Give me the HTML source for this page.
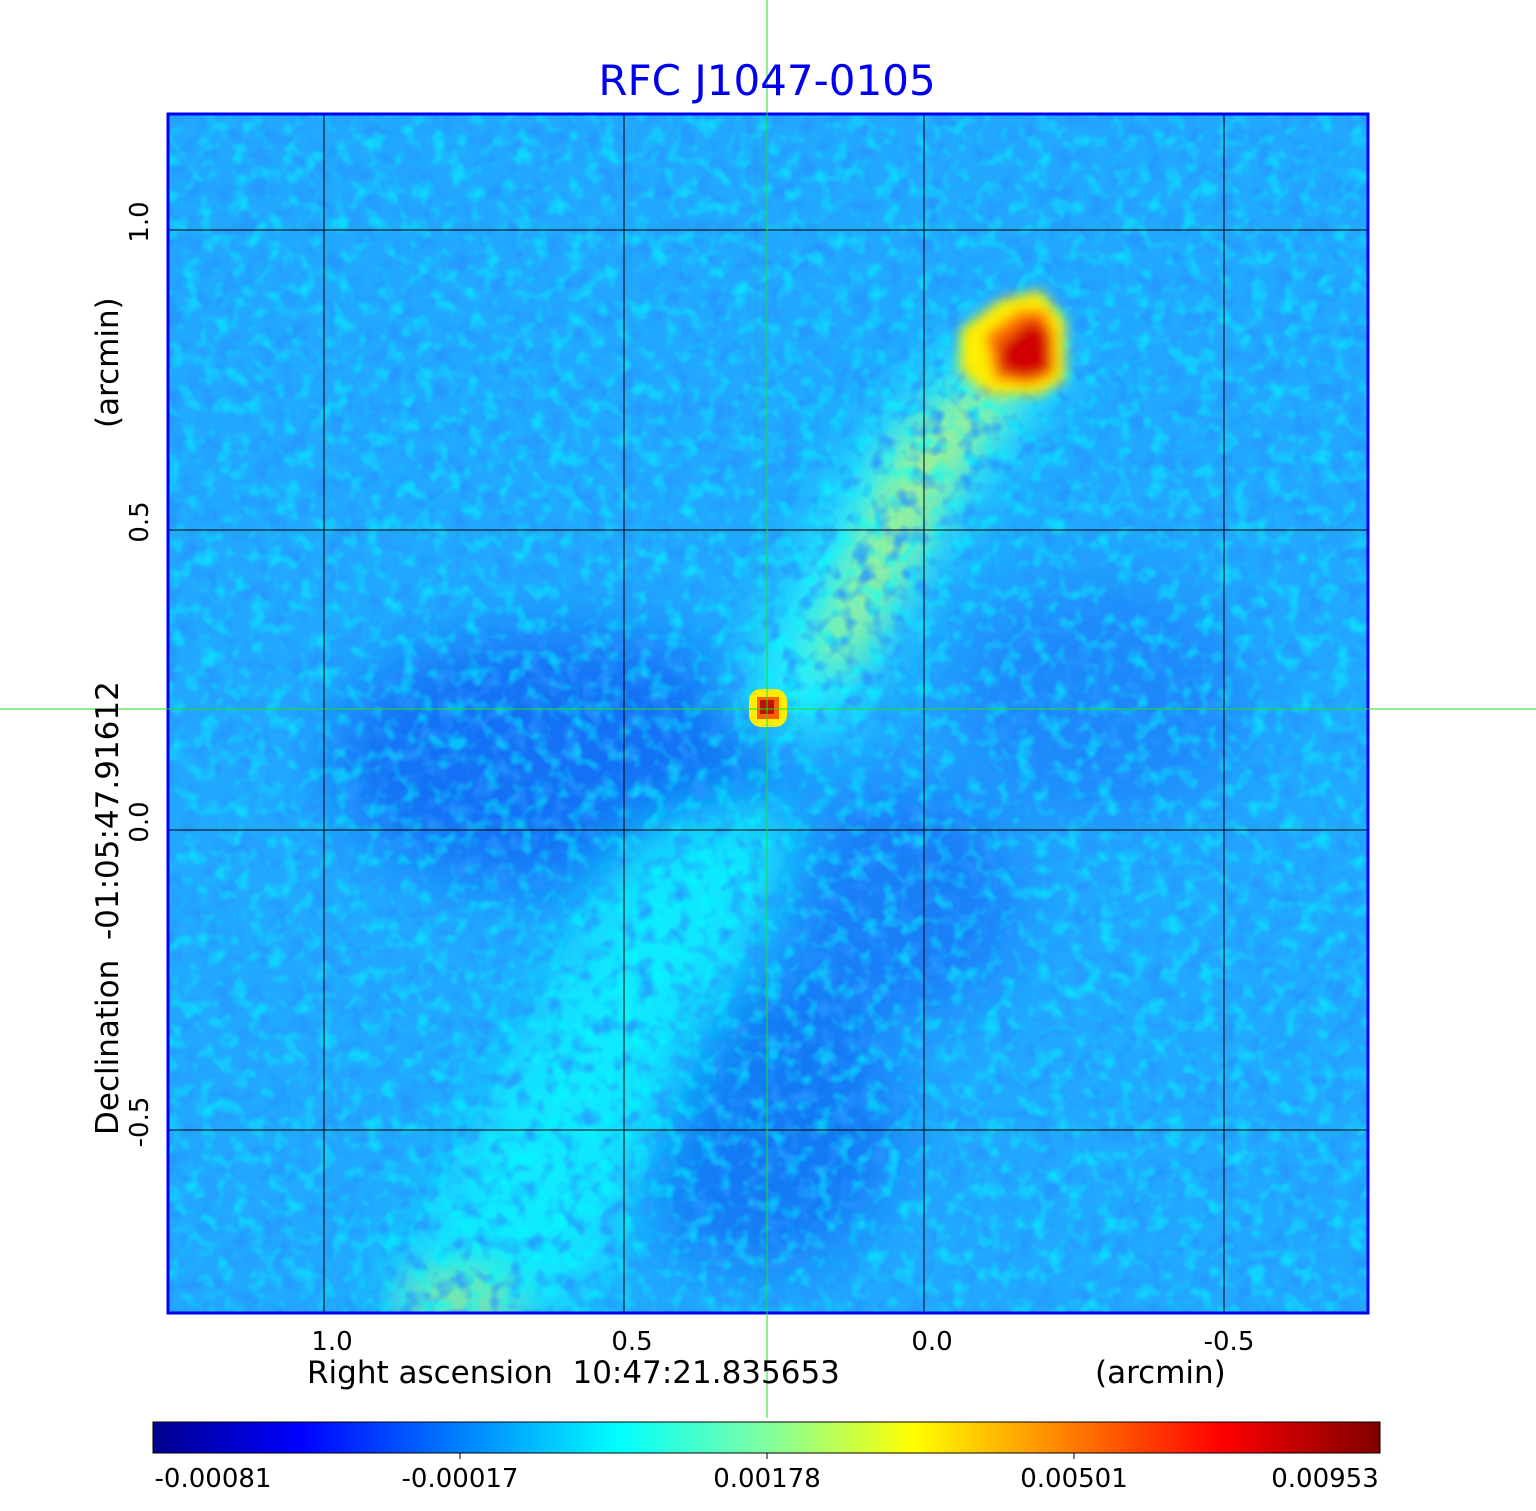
<!DOCTYPE html>
<html><head><meta charset="utf-8"><style>
html,body{margin:0;padding:0;background:#fff;}
body{width:1536px;height:1511px;position:relative;overflow:hidden;font-family:"DejaVu Sans","Liberation Sans",sans-serif;}
</style></head><body>
<svg width="1536" height="1511" viewBox="0 0 1536 1511" xmlns="http://www.w3.org/2000/svg" style="position:absolute;left:0;top:0">
<defs>
<clipPath id="pc"><rect x="168" y="114" width="1200" height="1199"/></clipPath>
<filter id="noise" x="0" y="0" width="100%" height="100%">
<feTurbulence type="fractalNoise" baseFrequency="0.055" numOctaves="2" seed="7"/>
<feColorMatrix type="matrix" values="0 0 0 0 0.02  0 0 0 0 0.3  0 0 0 0 1  0 0 0 3 -1.4"/>
</filter>
<filter id="noise2" x="0" y="0" width="100%" height="100%">
<feTurbulence type="fractalNoise" baseFrequency="0.06" numOctaves="2" seed="3"/>
<feColorMatrix type="matrix" values="0 0 0 0 0  0 0 0 0 1  0 0 0 0 1  0 0 0 3 -1.45"/>
</filter>
<filter id="b30"><feGaussianBlur stdDeviation="30"/></filter>
<filter id="b20"><feGaussianBlur stdDeviation="20"/></filter>
<filter id="b6"><feGaussianBlur stdDeviation="6"/></filter>
<linearGradient id="cb" x1="0" x2="1" y1="0" y2="0">
<stop offset="0" stop-color="#00008f"/>
<stop offset="0.12" stop-color="#0000ff"/>
<stop offset="0.38" stop-color="#00ffff"/>
<stop offset="0.5" stop-color="#80ffa0"/>
<stop offset="0.62" stop-color="#ffff00"/>
<stop offset="0.87" stop-color="#ff0000"/>
<stop offset="1" stop-color="#800000"/>
</linearGradient>
</defs>
<g clip-path="url(#pc)">
<rect x="168" y="114" width="1200" height="1199" fill="#22a8ff"/>
<g filter="url(#b30)" opacity="0.65">
<ellipse cx="560" cy="760" rx="230" ry="130" fill="#0a55f0"/>
<ellipse cx="760" cy="1120" rx="140" ry="150" fill="#1060f0"/>
<ellipse cx="900" cy="900" rx="120" ry="120" fill="#1468f4"/>
<ellipse cx="1100" cy="700" rx="150" ry="120" fill="#1c78f8"/>
</g>
<g filter="url(#b30)">
<polygon points="370,1320 580,1320 800,830 760,790 630,830" fill="#10f0ff" opacity="0.9"/>
<polygon points="720,720 830,740 990,470 1080,360 990,320 860,440" fill="#20f0ff"/>
</g>
<g filter="url(#b20)">
<polygon points="810,660 850,670 960,470 1020,390 985,370 900,440" fill="#c8f070" opacity="0.75"/>
<ellipse cx="460" cy="1300" rx="60" ry="30" fill="#b0f080" opacity="0.7"/>
</g>
<rect x="168" y="114" width="1200" height="1199" filter="url(#noise)" opacity="0.8"/>
<rect x="168" y="114" width="1200" height="1199" filter="url(#noise2)" opacity="0.55"/>
<g filter="url(#b6)">
<path d="M960,330 L1000,300 L1040,290 L1065,320 L1065,380 L1040,395 L990,395 L960,370 Z" fill="#ffee00"/>
<path d="M985,335 L1020,310 L1045,310 L1055,335 L1055,375 L1030,385 L995,380 Z" fill="#ff7000"/>
<path d="M1000,345 L1030,320 L1048,330 L1050,370 L1025,378 L1000,370 Z" fill="#d00000"/>
</g>
<rect x="749" y="689" width="38" height="38" rx="12" fill="#ffee00"/>
<rect x="757" y="697" width="22" height="22" fill="#ff6000"/>
<rect x="760" y="700" width="14" height="14" fill="#c01000"/>
</g>
<g stroke="#000" stroke-width="1">
<line x1="324" y1="114" x2="324" y2="1313"/><line x1="624" y1="114" x2="624" y2="1313"/>
<line x1="924" y1="114" x2="924" y2="1313"/><line x1="1224" y1="114" x2="1224" y2="1313"/>
<line x1="168" y1="230" x2="1368" y2="230"/><line x1="168" y1="530" x2="1368" y2="530"/>
<line x1="168" y1="830" x2="1368" y2="830"/><line x1="168" y1="1130" x2="1368" y2="1130"/>
</g>
<rect x="168" y="114" width="1200" height="1199" fill="none" stroke="#0000ee" stroke-width="3"/>
<line x1="767" y1="0" x2="767" y2="1418" stroke="#22dd22" stroke-width="1"/>
<line x1="0" y1="709" x2="1536" y2="709" stroke="#22dd22" stroke-width="1"/>
<text x="767" y="95" font-size="42" fill="#0000ee" text-anchor="middle">RFC J1047-0105</text>
<g font-size="26" fill="#000" text-anchor="middle">
<text x="332" y="1350">1.0</text><text x="632" y="1350">0.5</text>
<text x="932" y="1350">0.0</text><text x="1229" y="1350">-0.5</text>
</g>
<text x="307" y="1383" font-size="31" fill="#000">Right ascension &#160;10:47:21.835653</text>
<text x="1095" y="1383" font-size="31" fill="#000">(arcmin)</text>
<g font-size="26" fill="#000" text-anchor="middle">
<text transform="translate(148,222) rotate(-90)">1.0</text>
<text transform="translate(148,522) rotate(-90)">0.5</text>
<text transform="translate(148,822) rotate(-90)">0.0</text>
<text transform="translate(148,1122) rotate(-90)">-0.5</text>
</g>
<text transform="translate(118,1135) rotate(-90)" font-size="31" fill="#000">Declination &#160;-01:05:47.91612</text>
<text transform="translate(118,428) rotate(-90)" font-size="31" fill="#000">(arcmin)</text>
<rect x="153" y="1422" width="1227" height="31" fill="url(#cb)" stroke="#000" stroke-width="1"/>
<g stroke="#000"><line x1="460" y1="1453" x2="460" y2="1459"/><line x1="767" y1="1453" x2="767" y2="1459"/><line x1="1074" y1="1453" x2="1074" y2="1459"/></g>
<g font-size="26" fill="#000" text-anchor="middle">
<text x="213" y="1487">-0.00081</text><text x="460" y="1487">-0.00017</text>
<text x="767" y="1487">0.00178</text><text x="1074" y="1487">0.00501</text>
<text x="1325" y="1487">0.00953</text>
</g>
</svg>
</body></html>
